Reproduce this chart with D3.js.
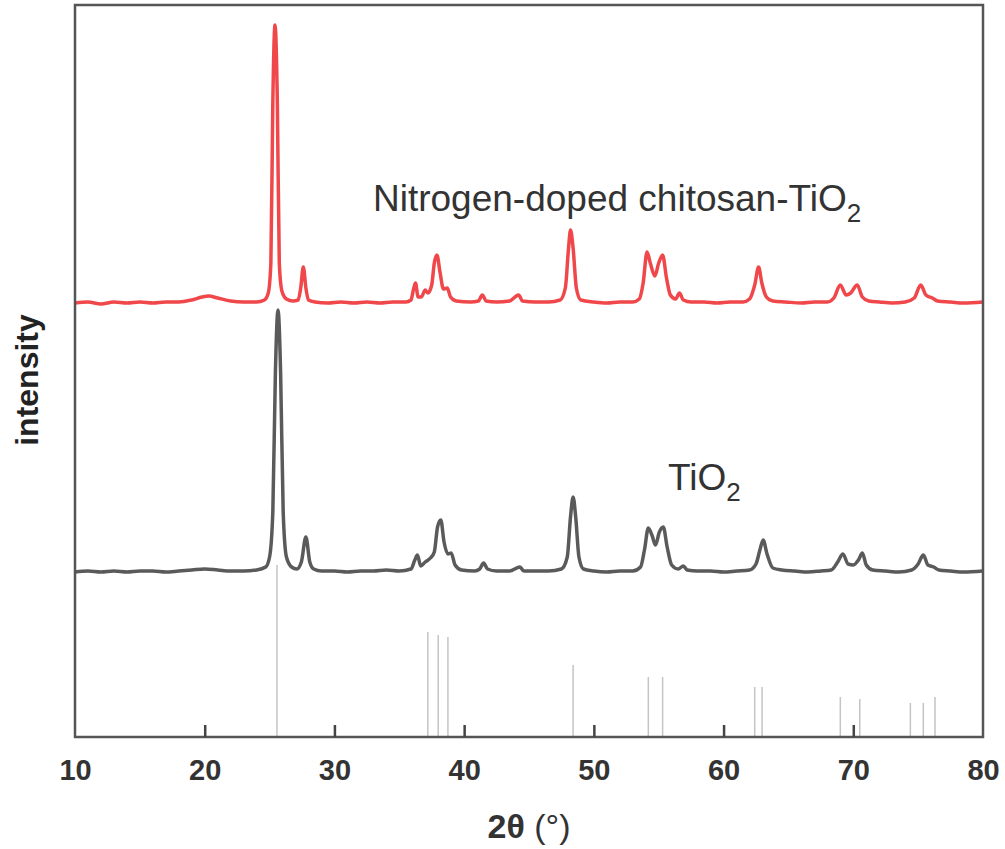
<!DOCTYPE html>
<html>
<head>
<meta charset="utf-8">
<script src="https://cdn.jsdelivr.net/npm/d3@7"></script>
<style>
  body { margin: 0; background: #fff; }
  svg { display: block; font-family: "Liberation Sans", Arial, sans-serif; }
</style>
</head>
<body>
<svg id="chart" width="1005" height="849"></svg>
<script>
// x range / ticks
var xDomain = [10, 80];
var xTicks = [10, 20, 30, 40, 50, 60, 70, 80];

// vertical offsets of each pattern (a.u.)
var offsetDoped = 434;
var offsetTiO2 = 165;

// Nitrogen-doped chitosan-TiO2 pattern [2theta, intensity above its baseline]
var dopedPattern = [
	[10,0],[11,1],[12,-1],[13,1],[14,0],[15,1],[16,0],[17,1],[18,1],[19,3],[19.8,6],[20.3,7],[21,5],[22,2],[23,1],[24,1],
	[24.6,3],[24.9,10],[25.1,40],[25.25,200],[25.42,278],[25.6,200],[25.75,40],[25.95,12],[26.3,4],[26.8,2],
	[27.2,3],[27.4,15],[27.6,36],[27.8,15],[28.0,3],[28.5,1],[29.5,0],[30.5,1],[31.5,0],[32.5,1],[33.5,0],[34.5,1],[35.5,1],
	[35.9,3],[36.1,14],[36.25,20],[36.45,6],[36.7,6],[37.0,13],[37.2,10],[37.5,18],[37.7,40],[37.9,48],[38.15,30],[38.4,14],
	[38.7,15],[38.95,6],[39.4,2],[40.5,1],[41.1,2],[41.4,8],[41.7,2],[42.5,1],[43.5,2],[44.2,8],[44.5,2],[45.5,1],[46.5,1],
	[47.4,3],[47.8,15],[48.05,55],[48.2,73],[48.4,55],[48.65,15],[49.0,3],[50,1],[51,0],[52,1],[53,1],
	[53.5,4],[53.8,20],[54.1,51],[54.35,40],[54.7,27],[55.0,40],[55.3,48],[55.6,25],[55.9,8],[56.3,4],[56.6,10],[56.9,3],
	[57.5,1],[58.5,1],[59.5,0],[60.5,1],[61.5,1],[62.0,4],[62.4,18],[62.7,36],[62.95,20],[63.3,6],[63.8,2],[64.8,1],
	[66,0],[67,1],[68,1],[68.5,5],[69.0,18],[69.45,8],[69.8,10],[70.3,18],[70.7,6],[71.2,2],[72,1],[73,0],[74,1],
	[74.7,5],[75.2,18],[75.6,8],[76.1,5],[76.5,2],[77.5,1],[78.5,0],[80,1]
];

// TiO2 pattern
var tio2Pattern = [
	[10,0],[11,1],[12,0],[13,1],[14,0],[15,1],[16,1],[17,0],[18,1],[19,2],[20,3],[21,2],[22,1],[23,1],[24,2],
	[24.7,5],[25.0,15],[25.25,60],[25.45,200],[25.65,262],[25.85,200],[26.05,60],[26.3,15],[26.7,5],
	[27.1,3],[27.45,10],[27.8,35],[28.1,10],[28.4,3],[29,1],[30,1],[31,0],[32,1],[33,1],[34,2],[35,1],
	[35.9,3],[36.2,12],[36.4,17],[36.65,6],[37.0,10],[37.4,14],[37.7,20],[37.95,45],[38.2,52],[38.45,30],[38.75,18],
	[39.0,19],[39.3,7],[39.8,2],[40.8,1],[41.2,3],[41.5,9],[41.8,3],[42.5,1],[43.5,1],[44.3,5],[44.6,1],[45.5,1],[46.5,1],
	[47.5,3],[47.95,15],[48.2,55],[48.4,75],[48.6,55],[48.85,15],[49.2,3],[50,1],[51,0],[52,1],[53,1],
	[53.6,5],[53.9,22],[54.2,44],[54.5,36],[54.75,27],[55.05,40],[55.35,45],[55.65,25],[56.0,7],[56.5,3],[56.9,6],[57.2,2],
	[58,1],[59,1],[60,0],[61,1],[62,2],[62.5,8],[62.8,22],[63.05,32],[63.35,18],[63.8,4],[64.5,2],[65.5,1],
	[66.5,0],[67.5,1],[68.3,2],[68.8,10],[69.2,18],[69.6,8],[70.0,7],[70.4,12],[70.7,19],[71.0,7],[71.5,2],
	[72.5,1],[73.5,0],[74.5,2],[75.0,8],[75.4,17],[75.75,7],[76.2,5],[76.6,2],[77.5,1],[78.5,0],[80,1]
];

// reference (anatase) lines [2theta, height]
var refLines = [
	[25.57,172],[37.2,105],[38.0,102],[38.75,100],[48.4,72],[54.2,60],[55.3,60],
	[62.4,50],[62.97,50],[69.0,40],[70.5,38],[74.4,34],[75.4,34],[76.3,40]
];

var margin = {left: 75, right: 22, top: 5, bottom: 112};
var width = 1005 - margin.left - margin.right,
	height = 849 - margin.top - margin.bottom;

var svg = d3.select("#chart");
var g = svg.append("g")
	.attr("transform", "translate(" + margin.left + "," + margin.top + ")");

var x = d3.scaleLinear().domain(xDomain).range([0, width]);
var y = d3.scaleLinear().domain([0, height]).range([height, 0]);

// reference sticks
g.selectAll(".ref")
	.data(refLines)
	.enter().append("line")
		.attr("class", "ref")
		.attr("x1", function(d) {return x(d[0]);})
		.attr("x2", function(d) {return x(d[0]);})
		.attr("y1", y(0))
		.attr("y2", function(d) {return y(d[1]);})
		.attr("stroke", "#c4c4c4")
		.attr("stroke-width", 1.5);

function pattern(data, offset, colour){
	var line = d3.line()
		.x(function(d) {return x(d[0]);})
		.y(function(d) {return y(d[1] + offset);})
		.curve(d3.curveMonotoneX);
	g.append("path")
		.datum(data)
		.attr("d", line)
		.attr("fill", "none")
		.attr("stroke", colour)
		.attr("stroke-width", 3.5)
		.attr("stroke-linejoin", "round");
}
pattern(tio2Pattern, offsetTiO2, "#5a5a5a");
pattern(dopedPattern, offsetDoped, "#f0474a");

// frame
g.append("rect")
	.attr("width", width)
	.attr("height", height)
	.attr("fill", "none")
	.attr("stroke", "#555")
	.attr("stroke-width", 2.5);

// x axis, ticks pointing inward
var xAxis = d3.axisBottom(x)
	.tickValues(xTicks)
	.tickSize(-12)
	.tickPadding(22);
var ax = g.append("g")
	.attr("transform", "translate(0," + height + ")")
	.call(xAxis);
ax.select(".domain").remove();
ax.selectAll(".tick line")
	.attr("stroke", "#444")
	.attr("stroke-width", 2.5)
	.filter(function(d) {return d === 10 || d === 80;}).remove();
ax.selectAll(".tick text")
	.attr("fill", "#333")
	.attr("font-size", 29)
	.attr("font-weight", "bold")
	.attr("font-family", "'Liberation Sans', Arial, sans-serif");

// axis titles
var xt = svg.append("text")
	.attr("x", margin.left + width / 2)
	.attr("y", 838)
	.attr("text-anchor", "middle")
	.attr("fill", "#333")
	.attr("font-size", 34);
xt.append("tspan").attr("font-weight", "bold").text("2θ");
xt.append("tspan").text(" (°)");

svg.append("text")
	.attr("transform", "translate(38,380) rotate(-90)")
	.attr("text-anchor", "middle")
	.attr("fill", "#222")
	.attr("font-size", 32)
	.attr("font-weight", "bold")
	.text("intensity");

// annotations
function label(px, py, main){
	var t = svg.append("text")
		.attr("x", px)
		.attr("y", py)
		.attr("fill", "#333")
		.attr("font-size", 37);
	t.append("tspan").text(main);
	t.append("tspan").attr("font-size", 26).attr("dy", 11).text("2");
}
label(373, 211, "Nitrogen-doped chitosan-TiO");
label(668, 490, "TiO");
</script>
</body>
</html>
